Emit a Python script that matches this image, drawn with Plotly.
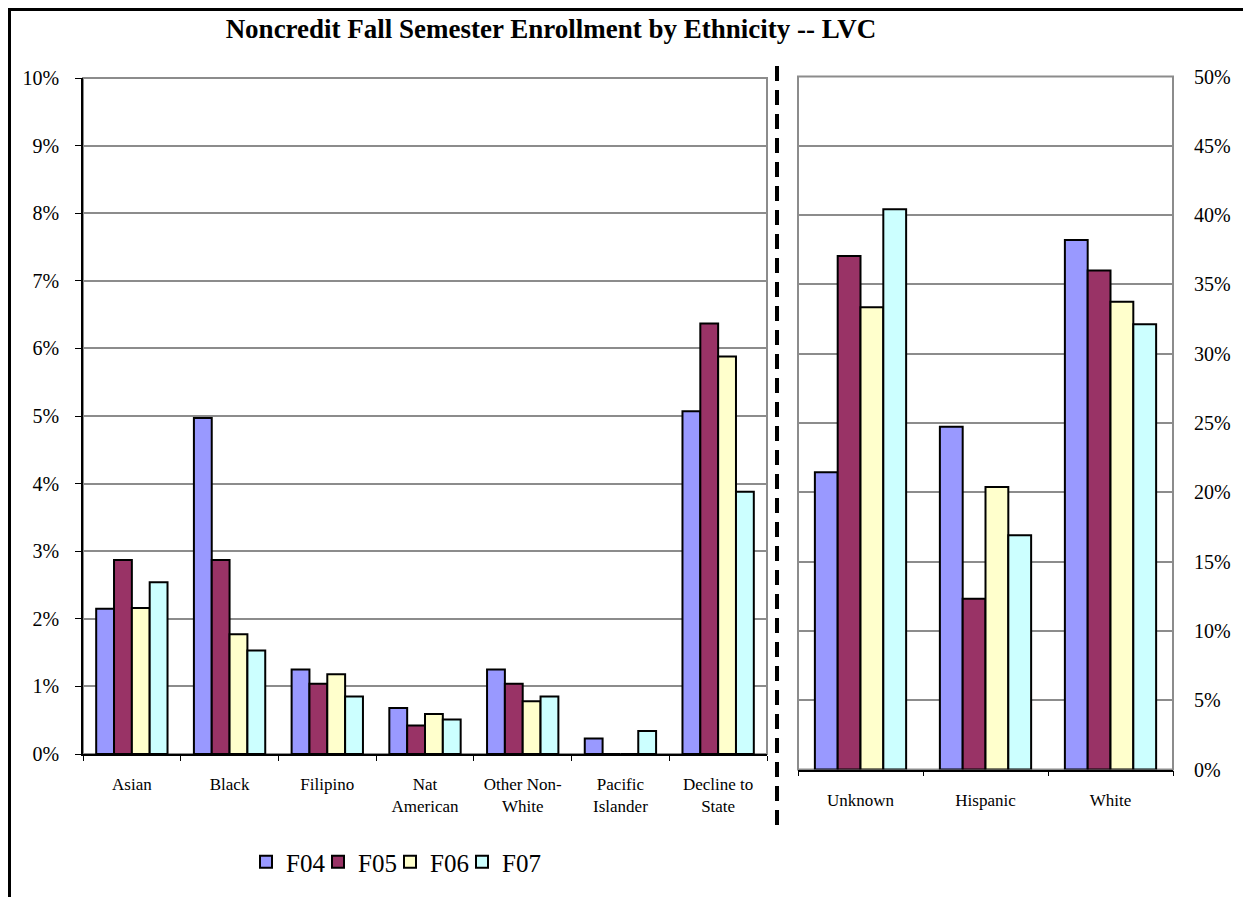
import plotly.graph_objects as go

# page body adds an 8px offset, so the figure is drawn 8px smaller and shifted
OFF = 8
W, H = 1251 - OFF, 897 - OFF

# ---- data (percent of noncredit fall enrollment) ----
left_cats = ["Asian", "Black", "Filipino", "Nat<br>American", "Other Non-<br>White",
             "Pacific<br>Islander", "Decline to<br>State"]
right_cats = ["Unknown", "Hispanic", "White"]
years = ["F04", "F05", "F06", "F07"]

f04_left = [2.15, 4.97, 1.25, 0.68, 1.25, 0.23, 5.07]
f05_left = [2.87, 2.87, 1.04, 0.42, 1.04, 0.0, 6.37]
f06_left = [2.16, 1.77, 1.18, 0.59, 0.78, 0.0, 5.88]
f07_left = [2.54, 1.53, 0.85, 0.51, 0.85, 0.34, 3.88]

f04_right = [21.44, 24.73, 38.2]
f05_right = [37.05, 12.32, 36.0]
f06_right = [33.35, 20.38, 33.75]
f07_right = [40.42, 16.9, 32.12]

left_vals = [f04_left, f05_left, f06_left, f07_left]
right_vals = [f04_right, f05_right, f06_right, f07_right]
colors = ["#9999FF", "#993366", "#FFFFCC", "#CCFFFF"]

FONT = "Liberation Serif, Times New Roman, serif"


def px_x(p):
    return (p - OFF) / W


def px_y(p):
    return 1 - (p - OFF) / H


fig = go.Figure()

for name, lv, rv, col in zip(years, left_vals, right_vals, colors):
    fig.add_trace(go.Bar(x=left_cats, y=lv, name=name, marker_color=col,
                         marker_line=dict(color="black", width=2),
                         xaxis="x", yaxis="y", legendgroup=name))
    fig.add_trace(go.Bar(x=right_cats, y=rv, name=name, marker_color=col,
                         marker_line=dict(color="black", width=2),
                         xaxis="x2", yaxis="y2", legendgroup=name, showlegend=False))

# blank spacer entry so the last legend label is not clipped
fig.add_trace(go.Scatter(x=[None], y=[None], mode="markers", name=" ",
                         marker=dict(color="rgba(0,0,0,0)", size=1), hoverinfo="skip"))

grid = "#8c8c8c"
ax_common = dict(showgrid=False, showline=True, linecolor="black", linewidth=1.5,
                 ticks="outside", ticklen=5, tickcolor="black", tickson="boundaries",
                 ticklabelstandoff=14,
                 tickfont=dict(family=FONT, size=17, color="black"), fixedrange=True)

fig.update_layout(
    width=W, height=H,
    margin=dict(l=0, r=0, t=0, b=0, autoexpand=False),
    paper_bgcolor="white", plot_bgcolor="white",
    barmode="group", bargap=0.27, bargroupgap=0,
    font=dict(family=FONT, color="black"),
    title=dict(text="<b>Noncredit Fall Semester Enrollment by Ethnicity -- LVC</b>",
               x=px_x(551), xanchor="center", y=px_y(29), yanchor="middle",
               font=dict(family=FONT, size=27, color="black")),
    xaxis=dict(domain=[px_x(83), px_x(767)], anchor="y", **ax_common),
    xaxis2=dict(domain=[px_x(798), px_x(1173)], anchor="y2", **ax_common),
    yaxis=dict(domain=[px_y(754), px_y(78)], anchor="x", range=[0, 10], dtick=1,
               ticksuffix="%", showgrid=True, gridcolor=grid, gridwidth=1.5,
               showline=True, linecolor="black", linewidth=1.5, ticks="outside",
               ticklen=6, tickcolor="black", zeroline=False, ticklabelstandoff=12,
               tickfont=dict(family=FONT, size=20, color="black"), fixedrange=True),
    yaxis2=dict(domain=[px_y(769.5), px_y(76.5)], anchor="x2", range=[0, 50], dtick=5,
                side="right", ticksuffix="%", showgrid=True, gridcolor=grid, gridwidth=1.5,
                showline=False, ticks="", zeroline=False, ticklabelstandoff=20,
                tickfont=dict(family=FONT, size=20, color="black"), fixedrange=True),
    yaxis3=dict(domain=[px_y(769.5), px_y(76.5)], anchor="x2", overlaying="y2",
                range=[0, 50], dtick=5, side="left", showgrid=False, showticklabels=False,
                showline=True, linecolor="black", linewidth=1.5, ticks="outside",
                ticklen=6, tickcolor="black", zeroline=False, fixedrange=True),
    showlegend=True,
    legend=dict(orientation="h", x=px_x(246), xanchor="left", y=px_y(862), yanchor="middle",
                font=dict(family=FONT, size=25, color="black"),
                entrywidth=27, bgcolor="rgba(0,0,0,0)"),
)

# gray plot-area borders (top and right)
for xr, yr in (("x domain", "y domain"), ("x2 domain", "y2 domain")):
    fig.add_shape(type="rect", xref=xr, yref=yr, x0=0, x1=1, y0=0, y1=1,
                  line=dict(color=grid, width=2), layer="below")

# dashed divider
fig.add_shape(type="line", xref="paper", yref="paper", x0=px_x(777), x1=px_x(777),
              y0=px_y(825), y1=px_y(58), line=dict(color="black", width=4, dash="15px,9px"))

# outer frame
fig.add_shape(type="rect", xref="paper", yref="paper", x0=px_x(9.5), x1=px_x(1265),
              y0=px_y(910), y1=px_y(9.5), line=dict(color="black", width=3))

fig.write_html("out.html")
